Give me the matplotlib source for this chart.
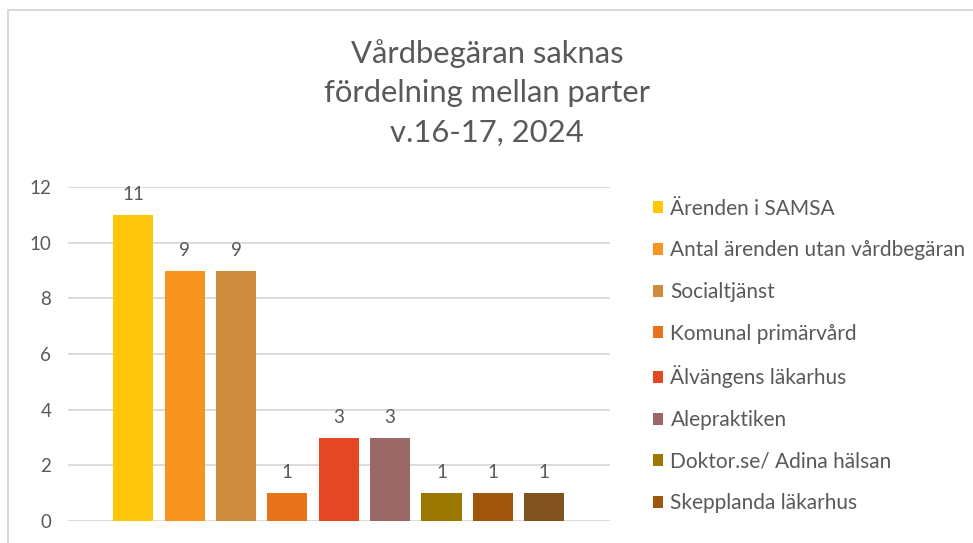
import matplotlib.pyplot as plt
from matplotlib.patches import Patch, Rectangle
import numpy as np

plt.rcParams['font.family'] = ['Lato', 'DejaVu Sans']

# data
parter = ["Ärenden i SAMSA", "Antal ärenden utan vårdbegäran", "Socialtjänst",
          "Komunal primärvård", "Älvängens läkarhus", "Alepraktiken",
          "Doktor.se/ Adina hälsan", "Skepplanda läkarhus"]
antal = [11, 9, 9, 1, 3, 3, 1, 1, 1]
farger = ["#FFC60A", "#F7931E", "#CD8B3E", "#E8721A", "#E34724",
          "#9C6767", "#9A7800", "#A0560A", "#7F5220"]
yticks = [0, 2, 4, 6, 8, 10, 12]

grey = "#595959"

fig = plt.figure(figsize=(9.73, 5.43), dpi=100)
fig.patches.append(Rectangle((8/973, -0.1), 1.2, 1.1 - 10/543, transform=fig.transFigure,
                             fill=False, edgecolor="#D9D9D9", linewidth=1.5))

ax = fig.add_axes([68/973, 1-521/543, 542/973, 334/543])
x = np.arange(len(antal))
bars = ax.bar(x, antal, width=0.78, color=farger, zorder=3)
for xi, v in zip(x, antal):
    ax.text(xi, v + 0.42, str(v), ha="center", va="bottom", fontsize=13.5, color=grey)

ax.set_xlim(-1.27, 9.28)
ax.set_ylim(0, 12)
ax.set_yticks(yticks)
ax.set_xticks([])
ax.tick_params(axis="y", length=0, labelsize=13.5, labelcolor=grey, pad=12)
ax.grid(axis="y", color="#D9D9D9", linewidth=1.3, zorder=0)
for s in ax.spines.values():
    s.set_visible(False)

fig.text(487/973, 1-93/543, "Vårdbegäran saknas\nfördelning mellan parter\nv.16-17, 2024",
         ha="center", va="center", fontsize=22.3, color=grey, linespacing=1.5)

handles = [Patch(facecolor=c, edgecolor="none") for c in farger[:len(parter)]]
fig.legend(handles, parter, loc="upper left", bbox_to_anchor=(634/973, 1-180/543),
           frameon=False, fontsize=15, labelcolor=grey, handlelength=0.5,
           handleheight=0.5, handletextpad=0.35, labelspacing=1.04)

fig.savefig("out.png", dpi=100)
